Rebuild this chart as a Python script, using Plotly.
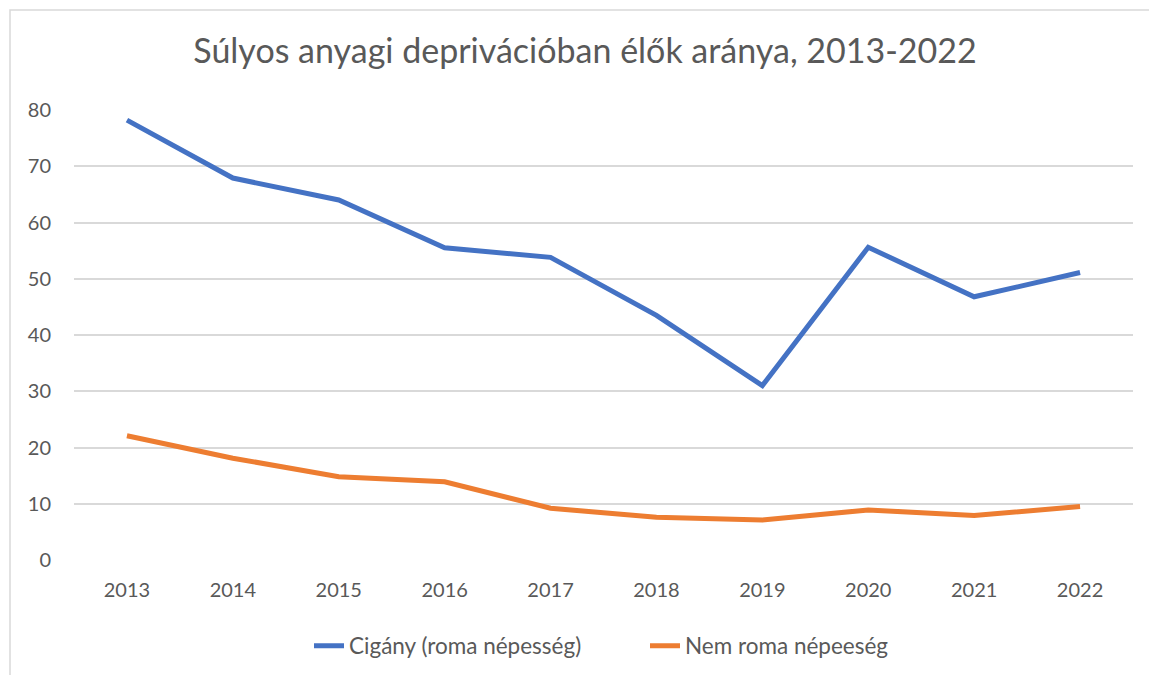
import plotly.graph_objects as go

years = ["2013", "2014", "2015", "2016", "2017", "2018", "2019", "2020", "2021", "2022"]
roma = [78.2, 67.9, 64.0, 55.5, 53.8, 43.5, 31.0, 55.6, 46.8, 51.1]
non_roma = [22.1, 18.1, 14.8, 13.9, 9.2, 7.6, 7.1, 8.9, 7.9, 9.5]
series_names = ["Cigány (roma népesség)", "Nem roma népeeség"]
y_ticks = [0, 10, 20, 30, 40, 50, 60, 70, 80]

FONT = "Lato"
GRAY = "#595959"

fig = go.Figure()
fig.add_trace(go.Scatter(x=years, y=roma, mode="lines", name=series_names[0],
                         line=dict(color="#4472C4", width=5)))
fig.add_trace(go.Scatter(x=years, y=non_roma, mode="lines", name=series_names[1],
                         line=dict(color="#ED7D31", width=5)))

L, R, T, B = 74, 16, 110, 115
W, H = 1149, 675
pw, ph = W - L - R, H - T - B

fig.update_layout(
    width=W, height=H,
    margin=dict(l=L, r=R, t=T, b=B, autoexpand=False),
    paper_bgcolor="white", plot_bgcolor="white",
    font=dict(family=FONT, color=GRAY, size=20),
    title=dict(text="Súlyos anyagi deprivációban élők aránya, 2013-2022",
               x=585 / W, xanchor="center", y=1 - 51 / H, yanchor="middle",
               font=dict(family=FONT, size=34, color=GRAY)),
    xaxis=dict(type="category", range=[-0.5, 9.5], showgrid=False, showline=False,
               ticks="", zeroline=False, ticklabelstandoff=16,
               tickfont=dict(size=20, color=GRAY)),
    yaxis=dict(range=[0, 80], tickvals=y_ticks, showgrid=True, gridcolor="#D9D9D9",
               gridwidth=1.5, zeroline=False, showline=False, ticks="",
               ticklabelstandoff=22, tickfont=dict(size=20, color=GRAY)),
    legend=dict(orientation="h", x=(309 - L) / pw, xanchor="left",
                y=-(646 - 560) / ph, yanchor="middle",
                font=dict(size=22.5, color=GRAY), entrywidth=291, entrywidthmode="pixels"),
    showlegend=True,
)

# outer chart border
fig.add_shape(type="rect", xref="paper", yref="paper",
              x0=(10 - L) / pw, x1=(W + 5 - L) / pw,
              y0=-(H + 5 - (H - B)) / ph, y1=(H - B - 10) / ph,
              line=dict(color="#D9D9D9", width=1.5), fillcolor="rgba(0,0,0,0)",
              layer="below")

fig.write_html("out.html", config={"displayModeBar": False},
               post_script="document.body.style.margin='0';")
